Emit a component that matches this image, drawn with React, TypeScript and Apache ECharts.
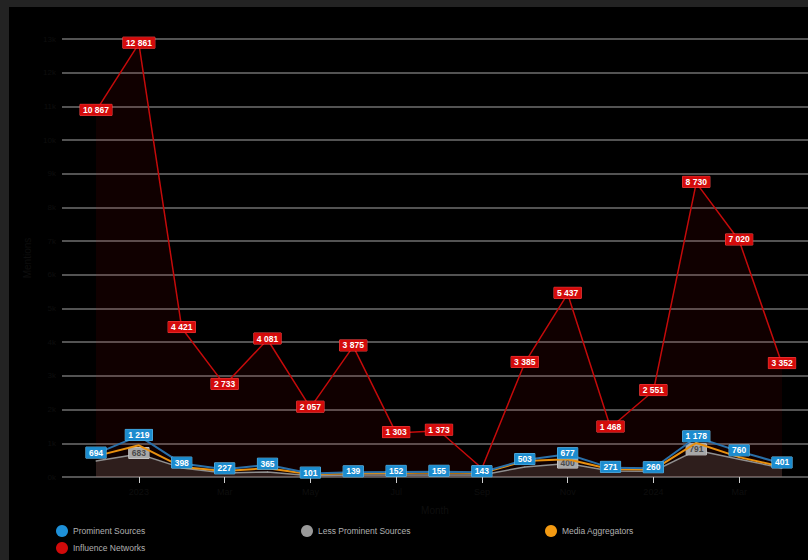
import React, { useEffect, useRef } from "react";
import * as echarts from "echarts";

const months = [
  "Dec 2022", "Jan 2023", "Feb 2023", "Mar 2023", "Apr 2023", "May 2023", "Jun 2023", "Jul 2023", "Aug 2023",
  "Sep 2023", "Oct 2023", "Nov 2023", "Dec 2023", "Jan 2024", "Feb 2024", "Mar 2024", "Apr 2024",
];
const tickLabels: Record<number, string> = { 1: "2023", 3: "Mar", 5: "May", 7: "Jul", 9: "Sep", 11: "Nov", 13: "2024", 15: "Mar" };

const prominent = [694, 1219, 398, 227, 365, 101, 139, 152, 155, 143, 503, 677, 271, 260, 1178, 760, 401];
const lessProminent = [475, 683, 270, 120, 150, 40, 60, 60, 60, 60, 300, 400, 180, 170, 791, 530, 265];
const mediaAgg = [620, 940, 300, 180, 260, 80, 110, 120, 130, 120, 475, 525, 230, 220, 1010, 590, 305];
const influence = [10867, 12861, 4421, 2733, 4081, 2057, 3875, 1303, 1373, 260, 3385, 5437, 1468, 2551, 8730, 7020, 3352];
const lessLabelShown = [1, 11, 14];

const fmt = (v: number) => String(v).replace(/\B(?=(\d{3})+(?!\d))/g, " ");

export default function App() {
  const ref = useRef<HTMLDivElement>(null);
  useEffect(() => {
    const chart = echarts.init(ref.current!, undefined, { renderer: "svg" });
    const lbl = (bg: string, color: string, border: string) => ({
      show: true,
      position: "inside",
      offset: [0, -1],
      backgroundColor: bg,
      color,
      borderColor: border,
      borderWidth: 0.5,
      fontSize: 8.5,
      fontWeight: "bold",
      fontFamily: "Liberation Sans, Arial, sans-serif",
      padding: [1, 3, 1, 3],
      formatter: (p: any) => fmt(p.value[1]),
    });
    const legendBase = {
      icon: "circle",
      itemWidth: 12,
      itemHeight: 12,
      itemGap: 4,
      textStyle: { color: "#b0b0b0", fontSize: 8.5, fontFamily: "Liberation Sans, Arial, sans-serif" },
    };
    chart.setOption({
      animation: false,
      backgroundColor: "#000000",
      legend: [
        { ...legendBase, data: ["Prominent Sources"], left: 42, top: 513 },
        { ...legendBase, data: ["Less Prominent Sources"], left: 287, top: 513 },
        { ...legendBase, data: ["Media Aggregators"], left: 531, top: 513 },
        { ...legendBase, data: ["Influence Networks"], left: 42, top: 530 },
      ],
      grid: { left: 53, right: 0, top: 32, bottom: 83, outerBoundsMode: "none", containLabel: false },
      xAxis: {
        type: "value",
        min: -0.793,
        max: 16.606,
        name: "Month",
        nameLocation: "middle",
        nameGap: 28,
        nameTextStyle: { color: "#0e0e0e", fontSize: 10 },
        splitLine: { show: false },
        axisLine: { show: false },
        axisTick: { show: true, customValues: [1, 3, 5, 7, 9, 11, 13, 15], length: 6, lineStyle: { color: "#cfcfcf" } },
        axisLabel: {
          customValues: [1, 3, 5, 7, 9, 11, 13, 15],
          color: "#0e0e0e",
          fontSize: 9,
          margin: 10,
          formatter: (v: number) => tickLabels[Math.round(v)] || "",
        },
      },
      yAxis: {
        type: "value",
        min: 0,
        max: 13000,
        interval: 1000,
        name: "Mentions",
        nameLocation: "middle",
        nameGap: 30,
        nameTextStyle: { color: "#0e0e0e", fontSize: 10 },
        axisLine: { show: false },
        axisTick: { show: false },
        axisLabel: { color: "#0e0e0e", fontSize: 8, margin: 6, formatter: (v: number) => String(v / 1000) + "k" },
        splitLine: { lineStyle: { color: "#6f6f6f", width: 1.5 } },
      },
      series: [
        {
          name: "Influence Networks",
          type: "line",
          z: 1,
          symbol: "circle",
          symbolSize: 1,
          itemStyle: { color: "#d10a0a" },
          lineStyle: { color: "#c40a0a", width: 1.5 },
          areaStyle: { color: "rgba(200,0,0,0.12)" },
          label: lbl("#d40b0b", "#ffffff", "#ff4a4a"),
          data: influence.map((v, i) => ({ value: [i, v], label: { show: i !== 9 } })),
        },
        {
          name: "Less Prominent Sources",
          type: "line",
          z: 2,
          symbol: "circle",
          symbolSize: 1,
          itemStyle: { color: "#9a9a9a" },
          lineStyle: { color: "#8f8f8f", width: 1.5 },
          areaStyle: { color: "rgba(160,140,130,0.3)" },
          label: lbl("#a8a8a8", "#4a4a4a", "#e0e0e0"),
          data: lessProminent.map((v, i) => ({ value: [i, v], label: { show: lessLabelShown.includes(i) } })),
        },
        {
          name: "Media Aggregators",
          type: "line",
          z: 3,
          symbol: "circle",
          symbolSize: 1,
          itemStyle: { color: "#f39a12" },
          lineStyle: { color: "#e8900f", width: 2 },
          label: { show: false },
          data: mediaAgg.map((v, i) => [i, v]),
        },
        {
          name: "Prominent Sources",
          type: "line",
          z: 4,
          symbol: "circle",
          symbolSize: 1,
          itemStyle: { color: "#1e90d8" },
          lineStyle: { color: "#2a6fa8", width: 2 },
          label: lbl("#1c8ccf", "#ffffff", "#6cc0ee"),
          data: prominent.map((v, i) => ({ value: [i, v] })),
        },
      ],
    });
    return () => chart.dispose();
  }, []);
  return (
    <div style={{ position: "fixed", left: 0, top: 0, width: 808, height: 560, background: "#232323", overflow: "hidden" }}>
      <div ref={ref} style={{ position: "absolute", left: 9, top: 7, width: 799, height: 553 }} />
    </div>
  );
}
